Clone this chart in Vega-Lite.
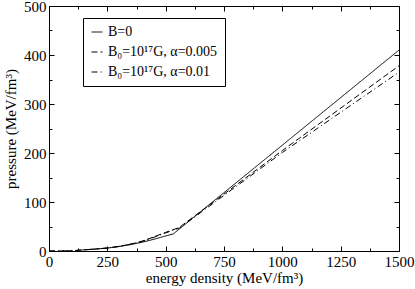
{
  "$schema": "https://vega.github.io/schema/vega-lite/v6.json",
  "width": 350,
  "height": 245,
  "autosize": {"type": "none"},
  "padding": {"left": 49, "top": 6, "right": 16, "bottom": 38},
  "background": "white",
  "config": {
    "view": {"stroke": "black", "strokeWidth": 1},
    "font": "Liberation Serif",
    "axis": {"grid": false, "domainColor": "black", "tickColor": "black", "labelColor": "black", "titleColor": "black", "labelFont": "Liberation Serif", "titleFont": "Liberation Serif", "labelFontSize": 15, "titleFontSize": 15, "titleFontWeight": "normal"}
  },
  "data": {"values": [
    {"e": 140, "p": 2, "s": "B=0"},
    {"e": 200, "p": 4, "s": "B=0"},
    {"e": 250, "p": 6, "s": "B=0"},
    {"e": 300, "p": 9, "s": "B=0"},
    {"e": 350, "p": 13, "s": "B=0"},
    {"e": 400, "p": 18, "s": "B=0"},
    {"e": 450, "p": 24, "s": "B=0"},
    {"e": 533, "p": 35, "s": "B=0"},
    {"e": 1000, "p": 216, "s": "B=0"},
    {"e": 1500, "p": 410, "s": "B=0"},
    {"e": 0, "p": 0, "s": "B₀=10¹⁷G, α=0.005"},
    {"e": 50, "p": 0.2, "s": "B₀=10¹⁷G, α=0.005"},
    {"e": 100, "p": 0.6, "s": "B₀=10¹⁷G, α=0.005"},
    {"e": 140, "p": 2, "s": "B₀=10¹⁷G, α=0.005"},
    {"e": 200, "p": 4, "s": "B₀=10¹⁷G, α=0.005"},
    {"e": 250, "p": 6, "s": "B₀=10¹⁷G, α=0.005"},
    {"e": 300, "p": 9.5, "s": "B₀=10¹⁷G, α=0.005"},
    {"e": 350, "p": 14, "s": "B₀=10¹⁷G, α=0.005"},
    {"e": 400, "p": 20, "s": "B₀=10¹⁷G, α=0.005"},
    {"e": 450, "p": 29, "s": "B₀=10¹⁷G, α=0.005"},
    {"e": 500, "p": 38, "s": "B₀=10¹⁷G, α=0.005"},
    {"e": 558, "p": 48, "s": "B₀=10¹⁷G, α=0.005"},
    {"e": 1000, "p": 205, "s": "B₀=10¹⁷G, α=0.005"},
    {"e": 1500, "p": 378, "s": "B₀=10¹⁷G, α=0.005"},
    {"e": 0, "p": 0, "s": "B₀=10¹⁷G, α=0.01"},
    {"e": 50, "p": 0.2, "s": "B₀=10¹⁷G, α=0.01"},
    {"e": 100, "p": 0.6, "s": "B₀=10¹⁷G, α=0.01"},
    {"e": 140, "p": 2, "s": "B₀=10¹⁷G, α=0.01"},
    {"e": 200, "p": 4, "s": "B₀=10¹⁷G, α=0.01"},
    {"e": 250, "p": 6, "s": "B₀=10¹⁷G, α=0.01"},
    {"e": 300, "p": 9.5, "s": "B₀=10¹⁷G, α=0.01"},
    {"e": 350, "p": 14, "s": "B₀=10¹⁷G, α=0.01"},
    {"e": 400, "p": 20, "s": "B₀=10¹⁷G, α=0.01"},
    {"e": 450, "p": 28, "s": "B₀=10¹⁷G, α=0.01"},
    {"e": 500, "p": 37, "s": "B₀=10¹⁷G, α=0.01"},
    {"e": 560, "p": 47, "s": "B₀=10¹⁷G, α=0.01"},
    {"e": 1000, "p": 201, "s": "B₀=10¹⁷G, α=0.01"},
    {"e": 1500, "p": 365, "s": "B₀=10¹⁷G, α=0.01"}
  ]},
  "resolve": {"axis": {"x": "independent", "y": "independent"}, "scale": {"x": "shared", "y": "shared"}},
  "layer": [
    {
      "mark": {"type": "line", "color": "black", "strokeWidth": 1},
      "encoding": {
        "x": {"field": "e", "type": "quantitative", "scale": {"domain": [0, 1500], "nice": false, "zero": false},
              "axis": {"orient": "bottom", "values": [0, 250, 500, 750, 1000, 1250, 1500], "format": "d", "tickSize": -5, "labelPadding": 8, "title": "energy density (MeV/fm³)", "titlePadding": 1, "labelFlush": false}},
        "y": {"field": "p", "type": "quantitative", "scale": {"domain": [0, 500], "nice": false},
              "axis": {"orient": "left", "values": [0, 100, 200, 300, 400, 500], "format": "d", "tickSize": -5, "labelPadding": 8, "title": "pressure (MeV/fm³)", "titlePadding": 5, "labelFlush": false}},
        "strokeDash": {"field": "s", "type": "nominal",
          "scale": {"domain": ["B=0", "B₀=10¹⁷G, α=0.005", "B₀=10¹⁷G, α=0.01"], "range": [[1, 0], [6, 3], [6, 3, 1, 3]]},
          "legend": {"title": null, "orient": "none", "legendX": 34, "legendY": 12, "strokeColor": "black", "padding": 7, "symbolType": "stroke", "symbolStrokeColor": "black", "symbolStrokeWidth": 1, "symbolSize": 120, "labelFont": "Liberation Serif", "labelFontSize": 14, "labelColor": "black", "rowPadding": 6, "fillColor": "white"}}
      }
    },
    {
      "mark": {"type": "point", "opacity": 0},
      "encoding": {
        "x": {"field": "e", "type": "quantitative", "axis": {"orient": "top", "values": [0, 250, 500, 750, 1000, 1250, 1500], "tickSize": -5, "labels": false, "title": null, "domain": false}},
        "y": {"field": "p", "type": "quantitative", "axis": {"orient": "right", "values": [0, 100, 200, 300, 400, 500], "tickSize": -5, "labels": false, "title": null, "domain": false}}
      }
    },
    {
      "mark": {"type": "point", "opacity": 0},
      "encoding": {
        "x": {"field": "e", "type": "quantitative", "axis": {"orient": "bottom", "values": [125, 375, 625, 875, 1125, 1375], "tickSize": -3, "labels": false, "title": null, "domain": false}},
        "y": {"field": "p", "type": "quantitative", "axis": {"orient": "left", "values": [50, 150, 250, 350, 450], "tickSize": -3, "labels": false, "title": null, "domain": false}}
      }
    },
    {
      "mark": {"type": "point", "opacity": 0},
      "encoding": {
        "x": {"field": "e", "type": "quantitative", "axis": {"orient": "top", "values": [125, 375, 625, 875, 1125, 1375], "tickSize": -3, "labels": false, "title": null, "domain": false}},
        "y": {"field": "p", "type": "quantitative", "axis": {"orient": "right", "values": [50, 150, 250, 350, 450], "tickSize": -3, "labels": false, "title": null, "domain": false}}
      }
    }
  ]
}
